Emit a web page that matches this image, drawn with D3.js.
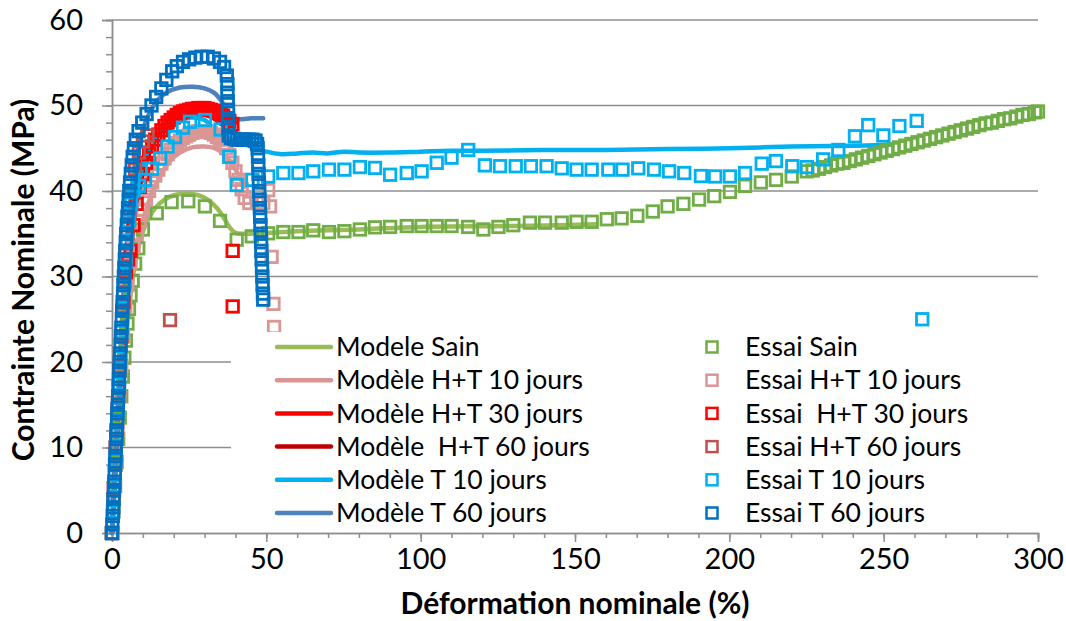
<!DOCTYPE html>
<html><head><meta charset="utf-8">
<script src="https://cdn.jsdelivr.net/npm/d3@7"></script>
<style>
body{margin:0;background:#fff;}
svg{display:block;font-family:Lato,"Open Sans",sans-serif;}
text{white-space:pre;}
</style></head><body>
<svg id="chart" width="1066" height="621"></svg>
<script>
// ---------- DATA ----------
const xTickValues = [0, 50, 100, 150, 200, 250, 300];
const xMinorTickValues = [0,10,20,30,40,50,60,70,80,90,100,110,120,130,140,150,160,170,180,190,200,210,220,230,240,250,260,270,280,290,300];
const yTickValues = [0, 10, 20, 30, 40, 50, 60];
const yMinorTickValues = [0,2,4,6,8,10,12,14,16,18,20,22,24,26,28,30,32,34,36,38,40,42,44,46,48,50,52,54,56,58,60];

const modelNames = ["Modele Sain", "Modèle H+T 10 jours", "Modèle H+T 30 jours", "Modèle  H+T 60 jours", "Modèle T 10 jours", "Modèle T 60 jours"];
const essaiNames = ["Essai Sain", "Essai H+T 10 jours", "Essai  H+T 30 jours", "Essai H+T 60 jours", "Essai T 10 jours", "Essai T 60 jours"];

const modeleSain = [[0,0],[1,5.5],[2,11],[3,16],[4,20.5],[5,24.5],[6,27.8],[7,30.5],[8,32.5],[9,34],[10,35.3],[12,36.9],[14,38],[17,39],[20,39.5],[24,39.7],[28,39.5],[31,39],[34,38],[36,37],[38,35.8],[40,35.1],[43,35],[50,35.1],[60,35.3],[80,35.5],[100,35.8],[130,35.9],[157,36.1]];
const modeleHT10 = [[0,0],[2,12],[4,22],[6,29],[8,33.5],[10,36.5],[13,39.8],[16,42],[19,43.6],[22,44.5],[26,45.1],[30,45.2],[34,44.9],[37,44],[40,42.5],[43,40.5]];
const modeleHT30 = [[0,0],[2,14],[4,25],[6,33],[8,38.5],[10,42],[13,45.3],[16,47.3],[19,48.6],[22,49.4],[26,49.9],[30,50],[34,49.6],[37,48.9],[40,48]];
const modeleHT60 = [[0,0],[2,14.5],[4,26],[6,34],[8,39],[10,42.3],[13,45.3],[16,47],[20,48.2],[24,48.8],[28,49],[32,48.7],[35,48],[38,47]];
const modeleT10 = [[0,0],[1,7.5],[2,14.5],[3,21],[4,26.5],[5,31],[6,34.8],[7,37.8],[8,40],[10,43],[12,45],[15,46.8],[18,47.8],[22,48.4],[26,48.6],[30,48.3],[33,47.3],[36,46.3],[40,45.9],[45,45.2],[50,44.6],[55,44.3],[60,44.4],[65,44.5],[70,44.4],[75,44.6],[80,44.5],[90,44.5],[100,44.6],[110,44.7],[120,44.7],[140,44.8],[160,44.8],[180,44.9],[200,45.0],[220,45.2],[240,45.3],[252,45.4]];
const modeleT60 = [[0,0],[1,8],[2,16],[3,23.5],[4,30],[5,35],[6,39],[7,42],[8,44.3],[10,47.2],[12,49],[15,50.7],[18,51.6],[22,52.1],[26,52.2],[30,52],[33,51.5],[35.5,50.5],[37.5,49.2],[39,48.6],[42,48.4],[45,48.5],[49,48.5]];

const essaiSain = [[0,0],[0.5,2.5],[1,5.5],[1.5,8.3],[2,11],[2.5,13.5],[3,16],[3.5,18.3],[4,20.5],[4.5,22.5],[5,24.5],[5.5,26.2],[6,27.8],[6.7,29.5],[7.5,31.5],[8.5,33.3],[10,35.5],[14.5,37.4],[19.3,38.7],[24.7,38.8],[30.1,38.2],[35,36.5],[40.4,34.3],[45.3,34.7],[50.6,35.05],[55.5,35.2],[60.4,35.2],[65.2,35.4],[70.3,35.2],[75.3,35.3],[80.3,35.5],[85.2,35.75],[90.1,35.8],[95.5,35.9],[100.3,35.9],[105.2,35.9],[110,35.9],[115.4,35.8],[120.3,35.5],[125.2,35.8],[130,36.0],[135.4,36.3],[140.3,36.3],[145.7,36.3],[150.5,36.4],[155.4,36.4],[160.3,36.7],[165.1,36.8],[170.2,37.1],[175.2,37.6],[180,38.2],[185.1,38.5],[190.2,39.0],[195.1,39.4],[200.2,39.9],[205.1,40.6],[210.2,41.0],[215.1,41.3],[220.2,41.7],[225.1,42.3],[227,42.4],[229,42.6],[231,42.8],[233,43.0],[235,43.2],[237,43.3],[239,43.5],[241,43.7],[243,43.9],[245,44.1],[247,44.3],[249,44.5],[251,44.7],[253,44.9],[255,45.1],[257,45.3],[259,45.5],[261,45.7],[263,45.9],[265,46.1],[267,46.3],[269,46.5],[271,46.7],[273,46.9],[275,47.1],[277,47.3],[279,47.5],[281,47.7],[283,47.9],[285,48.0],[287,48.2],[289,48.4],[291,48.5],[293,48.7],[295,48.9],[297,49.0],[299,49.2],[300,49.3]];
const essaiHT10 = [[0,0],[0.6,4],[1.2,8],[1.8,12],[2.4,16],[3,19.5],[3.6,23],[4.3,26.5],[5,29],[6,31.5],[7,33.5],[8,35],[9,36.5],[10,37.8],[11,39],[12,40],[13,41],[14,41.8],[15,42.5],[16,43.2],[17,43.8],[18,44.3],[19,44.8],[20,45.2],[21,45.6],[22,45.9],[23,46.2],[24,46.4],[25,46.6],[26,46.8],[27,46.9],[28,47],[29,47],[30,47],[31,46.9],[32,46.8],[33,46.6],[34,46.3],[35,46],[36,45.5],[37,45],[38,44.2],[39,43.3],[40,42.3],[41,41.3],[42,40.2],[43,39.2],[44.5,38.6],[47,38.6],[49,38.6],[50.6,40.1],[51.2,38.2],[51.7,32.3],[52.3,26.8],[52.5,24.1]];
const essaiHT30 = [[0,0],[0.6,5],[1.2,10],[1.8,14.5],[2.4,19],[3,23],[3.7,27],[4.5,30.5],[5.2,32],[6,33],[7,36],[8,38.5],[9,40.5],[10,42],[11,43.3],[12,44.3],[13,45.2],[14,46],[15,46.6],[16,47.1],[17,47.6],[18,48],[19,48.3],[20,48.6],[21,48.9],[22,49.1],[23,49.3],[24,49.4],[25,49.5],[26,49.6],[27,49.6],[28,49.7],[29,49.7],[30,49.7],[31,49.6],[32,49.5],[33,49.4],[34,49.2],[35,49],[36,48.8],[37,48.5],[38,48.2],[39,47.8],[39.1,33.0],[39.1,26.5]];
const essaiHT60 = [[0,0],[0.5,4],[1,8],[1.5,12],[2,16],[2.5,19.5],[3,23],[3.5,26.5],[4,29.5],[4.5,32.5],[5,35],[5.7,37.5],[6.5,40],[7.5,42.5],[8.7,44.5],[10,45.8],[11.5,46.5],[18.8,24.9]];
const essaiT10 = [[0,0],[0.3,2.5],[0.7,5.5],[1.1,8.5],[1.5,11.5],[1.9,14.5],[2.3,17.5],[2.7,20.5],[3.1,23.5],[3.5,26.3],[3.9,29],[4.4,31.7],[4.9,34.2],[5.5,36.5],[6.2,38.5],[7,40],[8.8,40.6],[10.7,41.3],[13,42.6],[15.6,43.8],[18,45.2],[20.4,46.3],[23,47.4],[25.3,48.1],[30.1,48.3],[35.2,47.2],[38,44],[40.4,40.7],[45.5,41.3],[50.6,41.7],[55.5,42.1],[60.4,42.1],[65.2,42.3],[70.3,42.5],[75.3,42.5],[80.3,42.8],[85.2,42.7],[90.1,41.9],[95.5,42.1],[100.3,42.3],[105.2,43.3],[110,43.9],[115.4,44.8],[120.8,43.0],[125.7,42.9],[130.8,42.9],[135.7,42.9],[140.8,42.9],[145.7,42.65],[150.5,42.5],[155.4,42.5],[160.8,42.5],[165.4,42.5],[170.5,42.65],[175.6,42.5],[180.5,42.3],[185.4,42.1],[190.8,41.75],[195.4,41.7],[200.2,41.7],[205.1,42.1],[210.5,43.2],[215.1,43.5],[220.4,42.9],[225.1,42.8],[230.4,43.7],[235.3,44.8],[240.7,46.4],[245,47.7],[249.9,46.5],[255.1,47.6],[260.7,48.2],[262.5,25.0]];
const essaiT60 = [[0,0],[0.1,1],[0.25,2],[0.4,3],[0.5,4],[0.65,5],[0.75,6],[0.9,7],[1.0,8],[1.15,9],[1.25,10],[1.4,11],[1.5,12],[1.65,13],[1.75,14],[1.9,15],[2.0,16],[2.15,17],[2.25,18],[2.4,19],[2.5,20],[2.65,21],[2.8,22],[2.9,23],[3.05,24],[3.2,25],[3.3,26],[3.45,27],[3.6,28],[3.7,29],[3.85,30],[4.0,31],[4.15,32],[4.3,33],[4.45,34],[4.6,35],[4.8,36],[5.0,37],[5.2,38],[5.4,39],[5.6,40],[5.85,41],[6.1,42],[6.4,43],[6.7,44],[7.1,45],[7.7,46],[8.6,47],[9.8,48],[11.2,49],[12.8,50],[14.3,51],[16,52],[17.6,53],[19.5,54],[21,54.6],[23,55.1],[25,55.4],[27,55.6],[29,55.7],[31,55.7],[33,55.5],[35,55.1],[36.3,54.5],[37.2,53.5],[37.4,52.5],[37.4,51.5],[37.5,50.5],[37.6,49.5],[37.6,48.5],[37.7,47.5],[37.8,46.5],[38.5,46.2],[39.5,46.1],[40.5,46],[41.5,46],[42.5,46],[43.5,46],[44.5,46],[45.5,46],[46.5,45.9],[47,45.5],[47.2,45],[47.3,44],[47.4,43],[47.5,42],[47.6,41],[47.7,40],[47.8,39],[47.9,38],[48,37],[48.1,36],[48.2,35],[48.3,34],[48.4,33],[48.5,32],[48.6,31],[48.7,30],[48.8,29],[48.9,28],[49.0,27.3]];

const modelSeries = [modeleSain, modeleHT10, modeleHT30, modeleHT60, modeleT10, modeleT60];
const essaiSeries = [essaiSain, essaiHT10, essaiHT30, essaiHT60, essaiT10, essaiT60];

// ---------- STYLE ----------
const modelColors = ["#9BBB59", "#D99694", "#FF0000", "#C00000", "#00B0F0", "#4F81BD"];
const essaiColors = ["#70AD47", "#DA9694", "#FF0000", "#C0504D", "#00B0F0", "#0070C0"];
const gridColor = "#8E8E8E";

const svg = d3.select("#chart");
const x = d3.scaleLinear().domain([0, 300]).range([112, 1038]);
const y = d3.scaleLinear().domain([0, 60]).range([533, 20]);

// gridlines
svg.append("g").selectAll("line").data(yTickValues.filter(d => d > 0)).join("line")
  .attr("x1", x(0)).attr("x2", x(300)).attr("y1", d => y(d)).attr("y2", d => y(d))
  .attr("stroke", gridColor).attr("stroke-width", 1.5);

// axes
function styleAxis(g) {
  g.selectAll("path.domain").attr("stroke", gridColor).attr("stroke-width", 1.5);
  g.selectAll(".tick line").attr("stroke", gridColor).attr("stroke-width", 1.5);
  g.selectAll("text").attr("fill", "#000").attr("font-size", 29).attr("font-family", "Lato");
}
svg.append("g").attr("transform", `translate(${x(0)},0)`)
  .call(d3.axisLeft(y).tickValues(yMinorTickValues).tickSize(6).tickFormat("")).call(styleAxis);
svg.append("g").attr("transform", `translate(${x(0)},0)`)
  .call(d3.axisLeft(y).tickValues(yTickValues).tickSize(10).tickPadding(19).tickFormat(d3.format("d"))).call(styleAxis);
svg.append("g").attr("transform", `translate(0,${y(0)})`)
  .call(d3.axisBottom(x).tickValues(xMinorTickValues).tickSize(5).tickFormat("")).call(styleAxis);
svg.append("g").attr("transform", `translate(0,${y(0)})`)
  .call(d3.axisBottom(x).tickValues(xTickValues).tickSize(9).tickPadding(6).tickFormat(d3.format("d"))).call(styleAxis);

// model lines
const line = d3.line().x(d => x(d[0])).y(d => y(d[1])).curve(d3.curveCatmullRom.alpha(0.5));
svg.append("g").selectAll("path").data(modelSeries).join("path")
  .attr("d", line).attr("fill", "none")
  .attr("stroke", (d, i) => modelColors[i]).attr("stroke-width", 4.5)
  .attr("stroke-linecap", "round").attr("stroke-linejoin", "round");

// essai markers
const sq = 11.5;
essaiSeries.forEach((s, i) => {
  svg.append("g").selectAll("rect").data(s).join("rect")
    .attr("x", d => x(d[0]) - sq / 2).attr("y", d => y(d[1]) - sq / 2)
    .attr("width", sq).attr("height", sq)
    .attr("fill", "none").attr("stroke", essaiColors[i]).attr("stroke-width", 2.8);
});

// legend
const leg = svg.append("g");
leg.append("rect").attr("x", 231).attr("y", 332).attr("width", 810).attr("height", 197).attr("fill", "#fff");
const rowY = i => 347 + i * 33.2;
modelNames.forEach((n, i) => {
  leg.append("line").attr("x1", 277).attr("x2", 331).attr("y1", rowY(i)).attr("y2", rowY(i))
    .attr("stroke", modelColors[i]).attr("stroke-width", 4.5).attr("stroke-linecap", "round");
  leg.append("text").attr("x", 336).attr("y", rowY(i)).attr("dy", "0.35em")
    .attr("font-size", 26.5).text(n);
});
essaiNames.forEach((n, i) => {
  leg.append("rect").attr("x", 712 - 5.5).attr("y", rowY(i) - 5.5).attr("width", 11).attr("height", 11)
    .attr("fill", "none").attr("stroke", essaiColors[i]).attr("stroke-width", 2.5);
  leg.append("text").attr("x", 745).attr("y", rowY(i)).attr("dy", "0.35em")
    .attr("font-size", 26.5).text(n);
});

// axis titles
svg.append("text").attr("x", 575).attr("y", 614).attr("text-anchor", "middle")
  .attr("font-size", 30).attr("font-weight", "bold").text("Déformation nominale (%)");
svg.append("text").attr("transform", "translate(34,280) rotate(-90)").attr("text-anchor", "middle")
  .attr("font-size", 30).attr("font-weight", "bold").text("Contrainte Nominale (MPa)");
</script>
</body></html>
